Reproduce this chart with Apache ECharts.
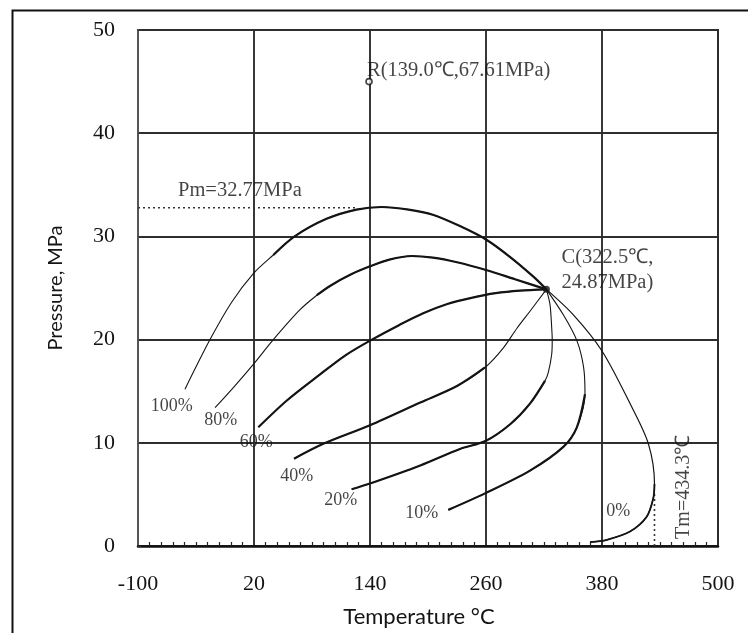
<!DOCTYPE html>
<html>
<head>
<meta charset="utf-8">
<script src="https://cdn.jsdelivr.net/npm/echarts@6/dist/echarts.min.js"></script>
<style>
  html, body { margin: 0; padding: 0; background: #fff; }
  #chart { width: 748px; height: 633px; }
</style>
</head>
<body>
<div id="chart"></div>
<script>
// Axis ranges and tick labels
const tempTicks = [-100, 20, 140, 260, 380, 500];
const tempMin = -100, tempMax = 500, tempMinorStep = 12;
const pressureMin = 0, pressureMax = 50, pressureStep = 10;

// Phase envelope curves, [temperature °C, pressure MPa]; each curve split into thin and thick parts
const curve100Thin = [[-51.4, 15.2], [-25.5, 20.0], [-3.3, 23.6], [19.3, 26.4], [40, 28.2]];
const curve100Thick = [[40, 28.2], [62, 30.0], [95, 31.7], [126, 32.6], [152, 32.85], [180, 32.6], [205, 32.1], [233, 31.0], [260, 29.7], [285, 28.0], [309, 26.1], [322.5, 24.87]];

const curve80Thin = [[-20.3, 13.4], [0, 15.5], [19.3, 17.6], [40, 20.0], [67.6, 22.9], [85, 24.3]];
const curve80Thick = [[85, 24.3], [98.6, 25.2], [120, 26.3], [140, 27.1], [160, 27.75], [183, 28.1], [205, 27.95], [230, 27.5], [260, 26.75], [290, 25.85], [322.5, 24.87]];

const curve60Thin = [];
const curve60Thick = [[24.4, 11.5], [54, 14.1], [88, 16.6], [115, 18.5], [142, 20.0], [170, 21.4], [195, 22.55], [220, 23.45], [245, 24.05], [270, 24.5], [295, 24.75], [322.5, 24.87]];

const curve40Thick = [[61.4, 8.46], [91.7, 9.9], [140, 11.7], [192, 13.9], [230, 15.5], [259, 17.3]];
const curve40Thin = [[259, 17.3], [278, 19.2], [292, 21.1], [305.5, 22.75], [322.5, 24.87]];

const curve20Thick = [[121, 5.5], [140, 6.05], [192, 7.8], [233, 9.4], [260, 10.2], [285, 11.8], [305.5, 13.8], [321, 16.0]];
const curve20Thin = [[321, 16.0], [324.4, 16.8], [328, 18.6], [328.5, 20.0], [328, 21.1], [326.2, 23.4], [322.5, 24.87]];

const curve10Thick = [[221, 3.5], [259, 5.1], [305.5, 7.3], [340, 9.6], [354, 11.5], [362.4, 14.7]];
const curve10Thin = [[362.4, 14.7], [361, 17.3], [354, 19.9], [340, 22.4], [322.5, 24.87]];

const curve0Thin = [[322.5, 24.87], [350.4, 22.4], [380, 18.9], [409, 13.8], [428, 9.9], [434.3, 6.0]];
const curve0Thick = [[434.3, 6.0], [433, 4.6], [426, 2.8], [409, 1.4], [385, 0.6], [367.6, 0.37]];

// Curve labels and where they sit
const curveLabels = ['100%', '80%', '60%', '40%', '20%', '10%', '0%'];
const curveLabelAt = [[-65, 13.5], [-14.5, 12.2], [22.4, 10.07], [64.3, 6.76], [109.7, 4.45], [193.5, 3.16], [396.9, 3.32]];

// Key points
const pointC = [322.5, 24.87];
const pointR = [139.0, 45.0];
const pm = 32.77;          // maximum pressure, MPa
const pmLineEnd = 125;     // end of the Pm guide line, °C
const tm = 434.3;          // maximum temperature, °C
const tmLineTop = 5.2;     // top of the Tm guide line, MPa

// Annotation texts and anchors
const textR = 'R(139.0℃,67.61MPa)';
const textR_at = [136.9, 46.1];
const textC = 'C(322.5℃,\n24.87MPa)';
const textC_at = [338.2, 26.7];
const textPm = 'Pm=32.77MPa';
const textPm_at = [-58.6, 34.4];
const textTm = 'Tm=434.3℃';
const textTm_at = [465, 5.73];

const minorTicks = [];
for (let v = tempMin + tempMinorStep; v < tempMax; v += tempMinorStep) {
  if (tempTicks.indexOf(v) < 0) minorTicks.push(v);
}

const ink = '#141414';
const gridInk = '#2e2e2e';
const serif = '"Liberation Serif", "Times New Roman", serif';

function curve(data, width, z) {
  return {
    type: 'line', data: data, smooth: 0.3, symbol: 'none',
    lineStyle: { color: ink, width: width }, silent: true, z: z
  };
}
// whole curve drawn thin underneath, the heavy stretch laid over it
function envelope(thin, thick, thinFirst) {
  const whole = thinFirst ? thin.concat(thick.slice(1)) : thick.concat(thin.slice(1));
  return [curve(whole.length ? whole : thick, 1.1, 3), curve(thick, 2.2, 4)];
}
function guide(data) {
  return {
    type: 'line', data: data, symbol: 'none', silent: true, z: 2,
    lineStyle: { color: '#333', width: 1.6, type: [2, 3] }
  };
}
function textAt(pos, text, align, size, extra) {
  return {
    type: 'scatter', symbolSize: 0, silent: true, z: 5,
    data: [{ value: pos, name: text }],
    label: Object.assign({
      show: true, position: 'inside', formatter: '{b}', align: align, verticalAlign: 'middle',
      fontFamily: serif, fontSize: size, color: ink
    }, extra || {})
  };
}

const chart = echarts.init(document.getElementById('chart'), null, { renderer: 'canvas' });

const series = [].concat(
  envelope(curve100Thin, curve100Thick, true),
  envelope(curve80Thin, curve80Thick, true),
  envelope(curve60Thin, curve60Thick, true),
  envelope(curve40Thin, curve40Thick, false),
  envelope(curve20Thin, curve20Thick, false),
  envelope(curve10Thin, curve10Thick, false),
  [curve(curve0Thin.concat(curve0Thick.slice(1)), 1.2, 3), curve(curve0Thick, 1.8, 4)],
  [
    guide([[tempMin, pm], [pmLineEnd, pm]]),
    guide([[tm, 0], [tm, tmLineTop]]),
    {
      type: 'scatter', silent: true, z: 6, symbol: 'circle', symbolSize: 7,
      data: [pointC], itemStyle: { color: ink }
    },
    {
      type: 'scatter', silent: true, z: 6, symbol: 'circle', symbolSize: 6,
      data: [pointR], itemStyle: { color: '#fff', borderColor: ink, borderWidth: 1.6 }
    },
    {
      type: 'scatter', symbolSize: 0, silent: true, z: 5,
      data: curveLabels.map((t, i) => ({ value: curveLabelAt[i], name: t })),
      label: {
        show: true, position: 'inside', formatter: '{b}', align: 'center', verticalAlign: 'middle',
        fontFamily: serif, fontSize: 18, color: ink
      }
    },
    textAt(textR_at, textR, 'left', 20.5),
    textAt(textC_at, textC, 'left', 20.5, { lineHeight: 25 }),
    textAt(textPm_at, textPm, 'left', 20.5),
    textAt(textTm_at, textTm, 'center', 20, { rotate: 90 })
  ]
);

chart.setOption({
  animation: false,
  backgroundColor: '#fff',
  graphic: [{
    type: 'rect', left: 10, top: 8, silent: true,
    shape: { width: 760, height: 700 },
    style: { fill: 'none', stroke: '#111', lineWidth: 2 }
  }],
  grid: {
    left: 138, right: 30, top: 30, bottom: 83.5,
    show: true, borderColor: '#222', borderWidth: 2, backgroundColor: 'transparent'
  },
  xAxis: [{
    type: 'value', min: tempMin, max: tempMax,
    name: 'Temperature °C', nameLocation: 'middle', nameGap: 60,
    nameTextStyle: { fontFamily: 'Lato, sans-serif', fontSize: 22, color: ink, padding: [0, 18, 0, 0] },
    axisLine: { show: true, onZero: false, lineStyle: { color: '#111', width: 2.5 } },
    axisTick: { show: false, customValues: tempTicks },
    axisLabel: { customValues: tempTicks, margin: 27, fontFamily: serif, fontSize: 22, color: ink },
    splitLine: { show: true, lineStyle: { color: gridInk, width: 1.9 } }
  }, {
    type: 'value', min: tempMin, max: tempMax, position: 'bottom', gridIndex: 0,
    axisLine: { show: false, onZero: false },
    axisTick: { show: true, inside: true, length: 4, customValues: minorTicks, lineStyle: { color: '#222', width: 1.2 } },
    axisLabel: { show: false },
    splitLine: { show: false }
  }],
  yAxis: {
    type: 'value', min: pressureMin, max: pressureMax, interval: pressureStep,
    name: 'Pressure, MPa', nameLocation: 'middle', nameGap: 72,
    nameTextStyle: { fontFamily: 'Lato, sans-serif', fontSize: 20, color: ink },
    axisLine: { show: true, onZero: false, lineStyle: { color: '#555', width: 2 } },
    axisTick: { show: true, inside: true, length: 3, lineStyle: { color: '#333' } },
    axisLabel: { margin: 23, fontFamily: serif, fontSize: 22, color: ink },
    splitLine: { show: true, lineStyle: { color: gridInk, width: 1.9 } }
  },
  series: series
});
</script>
</body>
</html>
